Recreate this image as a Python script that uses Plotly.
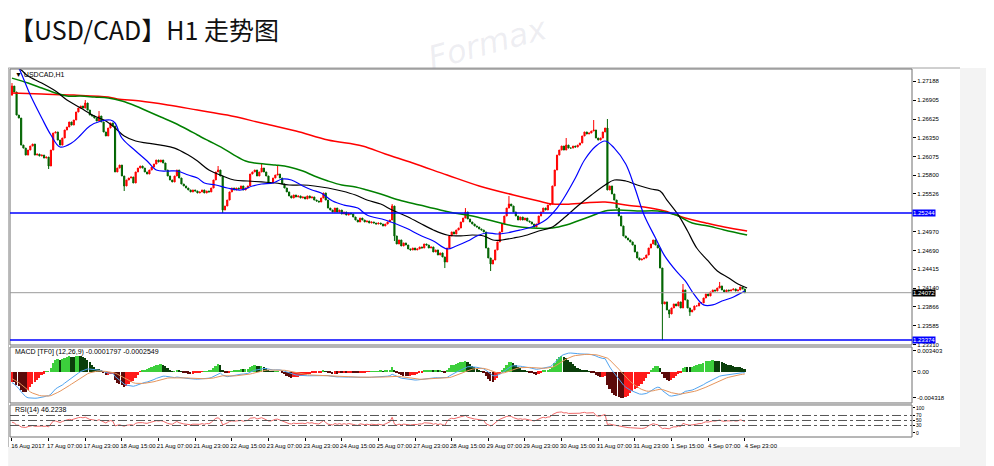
import plotly.graph_objects as go

# ---------------- data ----------------
closes = [
 1.27114,1.27026,1.26687,1.26643,1.26245,1.26201,1.26098,1.26172,1.26231,1.26260,
 1.26098,1.26113,1.26084,1.26098,1.26054,1.26069,1.25937,1.26172,1.26423,1.26438,
 1.26319,1.26245,1.26349,1.26467,1.26511,1.26585,1.26540,1.26614,1.26732,1.26790,
 1.26820,1.26790,1.26864,1.26761,1.26687,1.26673,1.26643,1.26599,1.26673,1.26585,
 1.26438,1.26379,1.26496,1.26570,1.26526,1.25849,1.25907,1.25951,1.25790,1.25643,
 1.25731,1.25760,1.25775,1.25687,1.25849,1.25907,1.25937,1.25907,1.25849,1.25819,
 1.25878,1.25922,1.25966,1.26025,1.25996,1.26025,1.25981,1.25878,1.25790,1.25731,
 1.25702,1.25790,1.25878,1.25760,1.25672,1.25643,1.25613,1.25584,1.25555,1.25584,
 1.25569,1.25540,1.25555,1.25584,1.25540,1.25569,1.25555,1.25613,1.25731,1.25849,
 1.25878,1.25790,1.25289,1.25348,1.25436,1.25555,1.25613,1.25584,1.25613,1.25599,
 1.25643,1.25584,1.25613,1.25643,1.25819,1.25849,1.25878,1.25790,1.25849,1.25907,
 1.25849,1.25790,1.25687,1.25687,1.25760,1.25804,1.25819,1.25760,1.25672,1.25613,
 1.25555,1.25496,1.25466,1.25510,1.25481,1.25496,1.25466,1.25481,1.25452,1.25496,
 1.25466,1.25481,1.25436,1.25421,1.25407,1.25466,1.25540,1.25436,1.25318,1.25289,
 1.25260,1.25318,1.25260,1.25289,1.25230,1.25260,1.25215,1.25245,1.25230,1.25186,
 1.25142,1.25113,1.25171,1.25142,1.25113,1.25127,1.25098,1.25113,1.25098,1.25083,
 1.25098,1.25083,1.25054,1.25083,1.25113,1.25142,1.25348,1.24907,1.24789,1.24848,
 1.24760,1.24804,1.24774,1.24716,1.24701,1.24730,1.24701,1.24716,1.24745,1.24730,
 1.24789,1.24774,1.24730,1.24745,1.24672,1.24701,1.24627,1.24657,1.24598,1.24524,
 1.24730,1.24907,1.24966,1.24936,1.24995,1.25024,1.25113,1.25171,1.25260,1.25157,
 1.25113,1.25083,1.25054,1.25039,1.25010,1.24995,1.24966,1.24730,1.24583,1.24494,
 1.24553,1.24701,1.24819,1.24966,1.25083,1.25201,1.25318,1.25377,1.25348,1.25260,
 1.25201,1.25142,1.25186,1.25142,1.25171,1.25127,1.25113,1.25083,1.25039,1.25083,
 1.25201,1.25260,1.25318,1.25289,1.25362,1.25377,1.25643,1.25878,1.26098,1.26172,
 1.26231,1.26172,1.26245,1.26201,1.26201,1.26231,1.26216,1.26245,1.26275,1.26379,
 1.26438,1.26408,1.26423,1.26452,1.26467,1.26349,1.26319,1.26349,1.26438,1.26496,
 1.25584,1.25643,1.25525,1.25436,1.25318,1.25201,1.25054,1.24907,1.24877,1.24848,
 1.24819,1.24774,1.24672,1.24583,1.24553,1.24568,1.24583,1.24627,1.24730,1.24789,
 1.24848,1.24774,1.24730,1.24435,1.23906,1.23936,1.23818,1.23759,1.23847,1.23906,
 1.23877,1.23936,1.23847,1.24112,1.23965,1.23847,1.23789,1.23818,1.23877,1.23877,
 1.23921,1.23921,1.23994,1.24053,1.24024,1.24083,1.24112,1.24097,1.24141,1.24171,
 1.24112,1.24083,1.24112,1.24097,1.24112,1.24127,1.24097,1.24112,1.24156,1.24127,
 1.24072,
]
first_open = 1.26980
high_extremes = {0: 1.27158, 32: 1.26908, 38: 1.26746, 90: 1.25937, 109: 1.25981,
                 116: 1.25951, 166: 1.25377, 198: 1.25318, 217: 1.25496, 242: 1.26349,
                 254: 1.26614, 260: 1.26629, 293: 1.24200, 309: 1.24230}
low_extremes = {16: 1.25893, 49: 1.25569, 92: 1.25245, 167: 1.24833, 189: 1.24435,
                209: 1.24391, 284: 1.23374, 287: 1.23700, 296: 1.23730}

# moving averages (bar index, value)
ma_blue_i = [0,3,8,13,17,21,26,30,34,39,43,45,48,54,59,63,68,72,77,81,84,89,94,100,105,109,114,118,122,127,
             131,135,140,145,151,155,163,172,178,184,190,194,199,203,207,212,216,222,227,233,238,241,246,250,
             255,259,263,268,272,276,281,285,290,294,298,302,306,310,314,320]
ma_blue_v = [1.27555,1.27379,1.26981,1.26643,1.26393,1.26216,1.26275,1.26393,1.26526,1.26599,1.26614,1.26570,
             1.26349,1.26157,1.26010,1.25878,1.25863,1.25863,1.25804,1.25760,1.25687,1.25657,1.25613,1.25584,
             1.25643,1.25672,1.25687,1.25746,1.25731,1.25643,1.25584,1.25540,1.25421,1.25362,1.25318,1.25215,
             1.25142,1.25024,1.24921,1.24833,1.24716,1.24760,1.24833,1.24907,1.24951,1.24936,1.24951,1.24995,
             1.25039,1.25142,1.25318,1.25466,1.25760,1.26025,1.26231,1.26305,1.26201,1.25966,1.25613,1.25215,
             1.24877,1.24613,1.24392,1.24245,1.24039,1.23892,1.23892,1.23950,1.23994,1.24097]
ma_black_i = [0,4,7,13,19,24,30,36,41,45,49,54,59,65,71,77,81,86,92,97,103,109,115,121,127,132,138,144,150,
              155,161,166,172,178,184,190,196,201,206,210,214,219,225,230,236,241,247,253,259,263,268,273,
              279,283,286,291,295,299,304,308,313,317,321]
ma_black_v = [1.27437,1.27349,1.27261,1.27158,1.27040,1.26908,1.26790,1.26673,1.26599,1.26496,1.26379,1.26305,
              1.26275,1.26245,1.26201,1.26098,1.26010,1.25878,1.25790,1.25731,1.25716,1.25702,1.25687,1.25657,
              1.25657,1.25643,1.25613,1.25569,1.25510,1.25436,1.25377,1.25289,1.25201,1.25098,1.24995,1.24921,
              1.24907,1.24921,1.24907,1.24848,1.24848,1.24877,1.24921,1.24980,1.25039,1.25171,1.25348,1.25510,
              1.25657,1.25731,1.25716,1.25657,1.25599,1.25569,1.25436,1.25215,1.24980,1.24730,1.24539,1.24392,
              1.24289,1.24200,1.24141]
ma_green_i = [0,7,13,19,24,30,36,42,48,54,59,65,71,77,81,86,92,97,102,106,115,121,127,132,138,144,150,155,161,
              169,178,187,193,201,210,219,227,236,242,247,253,259,265,273,282,290,297,304,311,321]
ma_green_v = [1.27231,1.27158,1.27085,1.27011,1.26967,1.26967,1.26952,1.26937,1.26893,1.26820,1.26746,1.26658,
              1.26570,1.26467,1.26393,1.26305,1.26201,1.26098,1.26010,1.25981,1.25951,1.25922,1.25863,1.25790,
              1.25716,1.25657,1.25628,1.25584,1.25525,1.25436,1.25362,1.25289,1.25245,1.25201,1.25127,1.25054,
              1.25024,1.25024,1.25068,1.25127,1.25201,1.25274,1.25289,1.25274,1.25274,1.25215,1.25098,1.25054,
              1.24995,1.24921]
ma_red_i = [0,13,27,42,46,56,68,81,94,109,124,138,153,163,175,190,204,219,230,236,244,250,259,268,276,285,294,
            303,311,321]
ma_red_v = [1.27011,1.26996,1.26981,1.26952,1.26923,1.26893,1.26835,1.26761,1.26687,1.26570,1.26452,1.26319,
            1.26231,1.26113,1.25981,1.25804,1.25643,1.25510,1.25421,1.25377,1.25377,1.25392,1.25407,1.25362,
            1.25333,1.25274,1.25171,1.25098,1.25039,1.24980]

x_tick_bars = list(range(0, 321, 16))
x_tick_labels = ["16 Aug 2017", "17 Aug 07:00", "17 Aug 23:00", "18 Aug 15:00", "21 Aug 07:00",
                 "21 Aug 23:00", "22 Aug 15:00", "23 Aug 07:00", "23 Aug 23:00", "24 Aug 15:00",
                 "25 Aug 07:00", "27 Aug 23:00", "28 Aug 15:00", "29 Aug 07:00", "29 Aug 23:00",
                 "30 Aug 15:00", "31 Aug 07:00", "31 Aug 23:00", "1 Sep 15:00", "4 Sep 07:00", "4 Sep 23:00"]
price_ticks = [1.27188, 1.26905, 1.26625, 1.26350, 1.26075, 1.25800, 1.25526, 1.24970, 1.24690,
               1.24415, 1.24140, 1.23866, 1.23585, 1.23310]
level_lines = [1.25244, 1.23374]
last_price = 1.24072
macd_ticks = [0.003403, 0.0, -0.004318]
macd_tick_text = ["0.003403", "0.00", "-0.004318"]
rsi_ticks = [100, 70, 50, 30, 0]
rsi_levels = [70, 50, 30]
# indicator warm-up state (history before the first visible bar) and histogram gain
ema_fast_seed, ema_slow_seed, signal_seed = 1.2752, 1.2768, -0.0010
hist_gain = 2.5
rsi_gain_seed, rsi_loss_seed = 0.00035, 0.00060

# ---------------- derived series ----------------
n = len(closes)
idx = list(range(n))
opens = [first_open] + closes[:-1]
highs = [max(o, c, high_extremes.get(i, 0)) for i, (o, c) in enumerate(zip(opens, closes))]
lows = [min(o, c, low_extremes.get(i, 9)) for i, (o, c) in enumerate(zip(opens, closes))]


def ema(values, span, seed):
    a = 2.0 / (span + 1)
    out, prev = [], seed
    for v in values:
        prev = prev + a * (v - prev)
        out.append(prev)
    return out


e12 = ema(closes, 12, ema_fast_seed)
e26 = ema(closes, 26, ema_slow_seed)
macd = [a - b for a, b in zip(e12, e26)]
signal = ema(macd, 9, signal_seed)
hist = [hist_gain * (m - s) for m, s in zip(macd, signal)]
hcol = []
for i, h in enumerate(hist):
    prev = hist[i - 1] if i else h
    if h >= 0:
        hcol.append("#3ccf3c" if h >= prev else "#0b3f0b")
    else:
        hcol.append("#5c0a0a" if h < prev else "#ff1a1a")

rsi = []
g, l = rsi_gain_seed, rsi_loss_seed
prevc = first_open
for c in closes:
    d = c - prevc
    g = (g * 13 + max(d, 0)) / 14
    l = (l * 13 + max(-d, 0)) / 14
    rsi.append(100 - 100 / (1 + g / l) if l > 0 else 100)
    prevc = c

# ---------------- figure ----------------
fig = go.Figure()
fig.add_trace(go.Candlestick(
    x=idx, open=opens, high=highs, low=lows, close=closes,
    increasing=dict(line=dict(color="#ff0000", width=1), fillcolor="#ff0000"),
    decreasing=dict(line=dict(color="#006400", width=1), fillcolor="#006400"),
    whiskerwidth=0, xaxis="x", yaxis="y", showlegend=False, hoverinfo="skip"))
for xi, yv, col, w in [(ma_red_i, ma_red_v, "#ff0000", 1.5), (ma_green_i, ma_green_v, "#008000", 1.5),
                       (ma_black_i, ma_black_v, "#000000", 1.2), (ma_blue_i, ma_blue_v, "#0000ff", 1.2)]:
    fig.add_trace(go.Scatter(x=xi, y=yv, mode="lines", line=dict(color=col, width=w, shape="spline"),
                             xaxis="x", yaxis="y", showlegend=False, hoverinfo="skip"))

fig.add_trace(go.Bar(x=idx, y=hist, marker=dict(color=hcol, line=dict(width=0)), width=0.75,
                     xaxis="x", yaxis="y2", showlegend=False, hoverinfo="skip"))
fig.add_trace(go.Scatter(x=idx, y=macd, mode="lines", line=dict(color="#4fa3f0", width=1),
                         xaxis="x", yaxis="y2", showlegend=False, hoverinfo="skip"))
fig.add_trace(go.Scatter(x=idx, y=signal, mode="lines", line=dict(color="#e6955c", width=1),
                         xaxis="x", yaxis="y2", showlegend=False, hoverinfo="skip"))
fig.add_trace(go.Scatter(x=idx, y=rsi, mode="lines", line=dict(color="#f06a6a", width=1),
                         xaxis="x", yaxis="y3", showlegend=False, hoverinfo="skip"))

axis_font = dict(family="Liberation Sans, Arial", size=6, color="#000")
shapes = [
    # terminal window surround (light grey strip right of the price scale and under the time scale)
    dict(type="rect", xref="paper", yref="paper", x0=1.0532, x1=1.10, y0=-0.10, y1=1.0027,
         fillcolor="#f3f3f3", line=dict(width=0), layer="below"),
    dict(type="rect", xref="paper", yref="paper", x0=-0.002, x1=1.10, y0=-0.10, y1=-0.0272,
         fillcolor="#f3f3f3", line=dict(width=0), layer="below"),
    dict(type="line", xref="paper", yref="paper", x0=-0.002, x1=1.0532, y0=1.0027, y1=1.0027,
         line=dict(color="#a0a0a0", width=1)),
    dict(type="line", xref="paper", yref="paper", x0=-0.002, x1=-0.002, y0=-0.0272, y1=1.0027,
         line=dict(color="#a0a0a0", width=1)),
]
for dom in ["y domain", "y2 domain", "y3 domain"]:
    shapes.append(dict(type="rect", xref="paper", yref=dom, x0=0, x1=1, y0=0, y1=1,
                       line=dict(color="#6e6e6e", width=1), layer="above"))
for lv in level_lines:
    shapes.append(dict(type="line", xref="paper", yref="y", x0=0, x1=1, y0=lv, y1=lv,
                       line=dict(color="#0000ff", width=1.5)))
shapes.append(dict(type="line", xref="paper", yref="y", x0=0, x1=1, y0=last_price, y1=last_price,
                   line=dict(color="#9a9a9a", width=1)))
for lv in rsi_levels:
    shapes.append(dict(type="line", xref="paper", yref="y3", x0=0, x1=1, y0=lv, y1=lv,
                       line=dict(color="#555555", width=1, dash="dashdot")))

annotations = [
    dict(text="【USD/CAD】H1 走势图", xref="paper", yref="paper", x=-0.003, y=1.11,
         xanchor="left", yanchor="middle", showarrow=False,
         font=dict(family="Noto Sans CJK SC", size=25, color="#111")),
    dict(text="▼ USDCAD,H1", xref="paper", yref="paper", x=0.003, y=0.986, xanchor="left",
         yanchor="middle", showarrow=False, font=dict(family="Liberation Sans, Arial", size=7, color="#000")),
    dict(text="MACD [TF0] (12,26,9) -0.0001797 -0.0002549", xref="paper", yref="paper", x=0.003, y=0.231,
         xanchor="left", yanchor="middle", showarrow=False,
         font=dict(family="Liberation Sans, Arial", size=7, color="#000")),
    dict(text="RSI(14) 46.2238", xref="paper", yref="paper", x=0.003, y=0.073, xanchor="left",
         yanchor="middle", showarrow=False, font=dict(family="Liberation Sans, Arial", size=7, color="#000")),
    dict(text="<i>Formax</i>", xref="paper", yref="paper", x=0.53, y=1.07, xanchor="center",
         yanchor="middle", showarrow=False, textangle=-15,
         font=dict(family="DejaVu Sans", size=32, color="rgba(150,150,175,0.16)")),
]
for lv in level_lines:
    annotations.append(dict(text=f"{lv:.5f}", xref="paper", yref="y", x=1.0, y=lv, xanchor="left",
                            yanchor="middle", showarrow=False, bgcolor="#0000ff", borderpad=0,
                            font=dict(family="Liberation Sans, Arial", size=6, color="#fff")))
annotations.append(dict(text=f"{last_price:.5f}", xref="paper", yref="y", x=1.0, y=last_price,
                        xanchor="left", yanchor="middle", showarrow=False, bgcolor="#000000", borderpad=0,
                        font=dict(family="Liberation Sans, Arial", size=6, color="#fff")))

# page body has an 8px margin, so the figure is 986x458 and offsets are reduced by 8px
fig.update_layout(
    width=986, height=458, margin=dict(l=2, r=82, t=61, b=29, autoexpand=False),
    paper_bgcolor="#ffffff", plot_bgcolor="#ffffff", bargap=0,
    shapes=shapes, annotations=annotations,
    xaxis=dict(domain=[0, 1], anchor="y3", range=[-0.87, 393.0], tickvals=x_tick_bars,
               ticktext=x_tick_labels, tickangle=0, ticks="outside", ticklen=3, tickcolor="#000",
               tickfont=axis_font, ticklabelshift=16, showgrid=False, zeroline=False, automargin=False,
               showline=False, rangeslider=dict(visible=False), fixedrange=True),
    yaxis=dict(domain=[0.25, 1.0], range=[1.23302, 1.27365], side="right", anchor="x", automargin=False,
               tickvals=price_ticks, ticktext=[f"{v:.5f}" for v in price_ticks], ticks="outside",
               ticklen=3, tickcolor="#000", tickfont=axis_font, showgrid=False, zeroline=False),
    yaxis2=dict(domain=[0.0924, 0.2446], range=[-0.00514, 0.00406], side="right", anchor="x",
                automargin=False, tickvals=macd_ticks, ticktext=macd_tick_text, ticks="outside", ticklen=3,
                tickcolor="#000", tickfont=axis_font, showgrid=False, zeroline=False),
    yaxis3=dict(domain=[0.0, 0.087], range=[-16, 112], side="right", anchor="x", automargin=False,
                tickvals=rsi_ticks, ticks="outside", ticklen=2, tickcolor="#000",
                tickfont=dict(family="Liberation Sans, Arial", size=5, color="#000"),
                showgrid=False, zeroline=False),
)

fig.write_html("out.html")
